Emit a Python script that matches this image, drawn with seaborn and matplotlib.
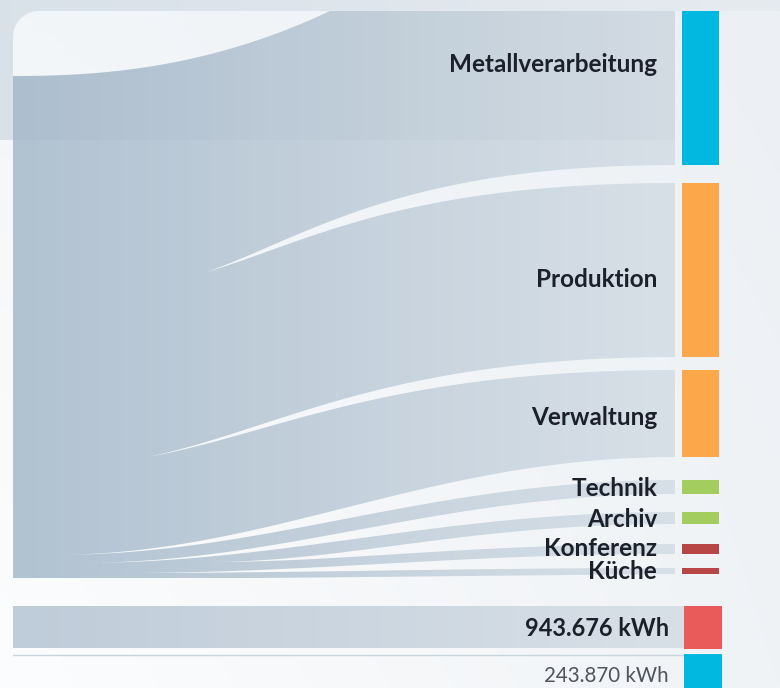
import numpy as np
import pandas as pd
import seaborn as sns
import matplotlib
matplotlib.use("Agg")
import matplotlib.pyplot as plt
from matplotlib.path import Path
from matplotlib.patches import PathPatch, Rectangle, Polygon
from matplotlib.colors import to_rgb

# ---------------- data ----------------
categories = ["Metallverarbeitung", "Produktion", "Verwaltung", "Technik",
              "Archiv", "Konferenz", "Küche"]
consumption_kwh = [318076, 359300, 179600, 28900, 24800, 20600, 12400]
bar_colors = ["#00b8e0", "#fba74a", "#fba74a", "#a4cd5f", "#a4cd5f",
              "#b84646", "#b84646"]
total_label = "943.676 kWh"
reference_label = "243.870 kWh"

df = pd.DataFrame({"category": categories, "kwh": consumption_kwh,
                   "color": bar_colors})

# ---------------- layout ----------------
W, H = 780, 688
px_per_kwh = 457 / df["kwh"].sum()
right_top = 11
right_gaps = [18, 13, 23, 18, 20, 14]
flow_x0, flow_x1 = 13, 675
bar_x0, bar_w = 682, 37
left_top, left_bottom = 76, 578
tip_x = [207, 148, 52, 77, 207, 120]
tip_y = [272, 457, 555, 563, 562, 573]
label_x = 657
label_nudge = [-25, 8, 3, 0, 0, -2, 0]

sns.set_theme(style="white")
plt.rcParams["font.family"] = ["Lato", "DejaVu Sans"]

fig = plt.figure(figsize=(W / 100, H / 100), dpi=100)
ax = fig.add_axes([0, 0, 1, 1])
ax.set_xlim(0, W)
ax.set_ylim(H, 0)
ax.axis("off")


def grad2d(tl, tr, bl, br, n=200):
    tl, tr, bl, br = [np.array(to_rgb(c)) for c in (tl, tr, bl, br)]
    u = np.linspace(0, 1, n)[None, :, None]
    v = np.linspace(0, 1, n)[:, None, None]
    top = tl + (tr - tl) * u
    bot = bl + (br - bl) * u
    return top + (bot - top) * v


def clip_patch(path):
    p = PathPatch(path, transform=ax.transData, facecolor="none",
                  edgecolor="none")
    ax.add_patch(p)
    return p


# background
bg = grad2d("#f3f6f9", "#ecf0f4", "#fcfdfe", "#f0f3f6")
ax.imshow(bg, extent=(0, W, H, 0), origin="upper", aspect="auto",
          interpolation="bilinear", zorder=0)
ax.imshow(grad2d("#d9e1e9", "#e6ebf0", "#d9e1e9", "#e6ebf0"),
          extent=(0, W, 11, 0), origin="upper", aspect="auto", zorder=1)
ax.add_patch(Rectangle((0, 0), 13, 140, color="#d8e0e8", lw=0, zorder=1))
r = 26
ang = np.linspace(np.pi / 2, np.pi, 30)
corner = [(13, 11), (13 + r, 11)] + [(13 + r + r * np.cos(a), 11 + r - r * np.sin(a))
                                     for a in ang] + [(13, 11 + r)]
ax.add_patch(Polygon(corner, closed=True, color="#d9e1e9", lw=0, zorder=1))


def bezier(p0, p1, p2, p3, n=120):
    t = np.linspace(0, 1, n)[:, None]
    p0, p1, p2, p3 = map(np.array, (p0, p1, p2, p3))
    return ((1 - t) ** 3) * p0 + 3 * t * (1 - t) ** 2 * p1 + \
        3 * t ** 2 * (1 - t) * p2 + t ** 3 * p3


# right side bar positions from data
heights = df["kwh"].values * px_per_kwh
tops = []
y = right_top
for i, h in enumerate(heights):
    tops.append(y)
    y += h
    if i < len(right_gaps):
        y += right_gaps[i]
tops = np.array(tops)
bottoms = tops + heights

# total flow outline
xs = np.linspace(flow_x0, 330, 80)
top_curve = np.column_stack([xs, left_top - (left_top - right_top) *
                             ((xs - flow_x0) / (330 - flow_x0)) ** 2.3])
outline = np.vstack([
    [[flow_x0, left_bottom]],
    top_curve,
    [[flow_x1, right_top], [flow_x1, bottoms[-1]], [flow_x0 + 250, left_bottom]],
])
flow_path = Path(outline, closed=False)
flow_clip = clip_patch(flow_path)

band = grad2d("#b1c2d1", "#d8e0e7", "#b1c2d1", "#d8e0e7")
im = ax.imshow(band, extent=(flow_x0, flow_x1, left_bottom, right_top),
               origin="upper", aspect="auto", interpolation="bilinear", zorder=2)
im.set_clip_path(flow_clip)
ov = ax.add_patch(Rectangle((0, 0), 680, 140, color="#5a7590", alpha=0.04,
                            lw=0, zorder=2.5))
ov.set_clip_path(flow_clip)

# gaps (wedges) between bands
shape = [(0.22, 0.35, 0.42), (0.25, 0.28, 0.45), (0.35, 0.0, 0.6),
         (0.35, 0.0, 0.6), (0.3, 0.0, 0.55), (0.35, 0.0, 0.6)]
wedges = []
for i in range(len(right_gaps)):
    tx, ty = tip_x[i], tip_y[i]
    L = flow_x1 + 1 - tx
    a, k, c = shape[i]
    g_top, g_bot = bottoms[i], tops[i + 1]
    up = bezier((tx, ty), (tx + a * L, ty - k * (ty - g_top)),
                (tx + c * L, g_top), (flow_x1 + 1, g_top))
    dn = bezier((tx, ty), (tx + a * L, ty - k * (ty - g_bot)),
                (tx + c * L, g_bot), (flow_x1 + 1, g_bot))
    poly = np.vstack([up, dn[::-1]])
    wedges.append(Path(poly, closed=False))
wedge_clip = clip_patch(Path.make_compound_path(*wedges))
im2 = ax.imshow(bg, extent=(0, W, H, 0), origin="upper", aspect="auto",
                interpolation="bilinear", zorder=3)
im2.set_clip_path(wedge_clip)

# right-hand bars
ax.barh(y=tops + heights / 2, width=bar_w, left=bar_x0, height=heights,
        color=df["color"], edgecolor="none", zorder=4)

# labels
for i, row in df.iterrows():
    yc = tops[i] + heights[i] / 2
    ax.text(label_x, yc + 8.5 + label_nudge[i], row["category"], ha="right",
            va="baseline", fontsize=17.5, fontweight="bold", color="#1b202b",
            zorder=5)

# total row
tot = grad2d("#bfccd9", "#d8e0e7", "#bfccd9", "#d8e0e7")
ax.imshow(tot, extent=(13, 684, 648, 606), origin="upper", aspect="auto",
          interpolation="bilinear", zorder=2)
ax.plot([13, 684], [655, 655], color="#c9d4dd", lw=1, zorder=2)
ax.add_patch(Rectangle((684, 606), 38, 43, color="#e85b5a", lw=0, zorder=4))
ax.add_patch(Rectangle((684, 654), 38, 40, color="#00b8e0", lw=0, zorder=4))
ax.text(669, 636, total_label, ha="right", va="baseline", fontsize=17,
        fontweight="bold", color="#1b202b", zorder=5)
ax.text(669, 682, reference_label, ha="right", va="baseline", fontsize=14.8,
        fontweight="normal", color="#50555d", zorder=5)

fig.savefig("out.png", dpi=100)
